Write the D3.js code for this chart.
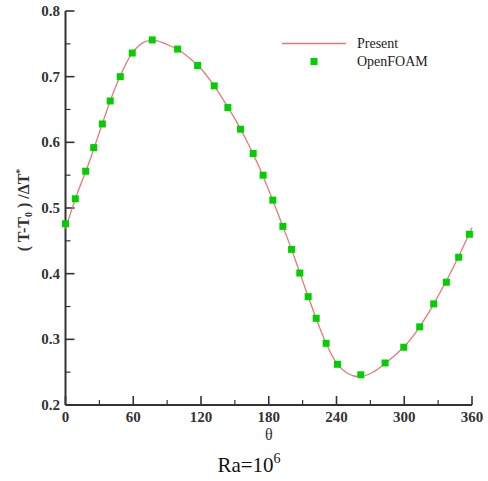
<!DOCTYPE html>
<html>
<head>
<meta charset="utf-8">
<script src="https://cdn.jsdelivr.net/npm/d3@7"></script>
<style>
  body { margin: 0; background: #fff; }
  svg { display: block; }
  text { font-family: 'Liberation Serif', 'Times New Roman', Times, serif; }
</style>
</head>
<body>
<script>
// present solution (line)
const lineTheta = [0,10,20,30,40,50,60,70,80,90,100,110,120,130,140,150,160,170,180,
                   190,200,210,220,230,240,250,260,270,280,290,300,310,320,330,340,350,360]
const lineVal = [0.468,0.52,0.565,0.615,0.665,0.707,0.738,0.753,0.755,0.749,0.741,0.728,0.712,0.690,0.664,0.636,0.604,0.568,0.527,
                 0.483,0.438,0.389,0.341,0.297,0.264,0.248,0.243,0.248,0.259,0.273,0.289,0.310,0.336,0.366,0.398,0.433,0.470]

// OpenFOAM points
const foamTheta = [0,8.7,17.9,25,32.6,39.6,48.5,59.1,76.8,99.3,117,131.7,143.8,155,166.2,175,183.6,
                   192.5,200.2,207.5,214.9,222,230.8,240.9,261.5,283,299.6,313.7,326.1,337.3,348.2,357.7]
const foamVal = [0.476,0.514,0.556,0.592,0.628,0.663,0.700,0.736,0.756,0.742,0.717,0.686,0.653,0.620,0.583,0.550,0.512,
                 0.472,0.437,0.401,0.365,0.332,0.294,0.262,0.246,0.264,0.288,0.319,0.354,0.387,0.425,0.460]

const xTicks = [0,60,120,180,240,300,360]
const yTicks = [0.2,0.3,0.4,0.5,0.6,0.7,0.8]
const seriesNames = ["Present", "OpenFOAM"]

const W = 488, H = 481
const axisColor = '#333'
const lineColor = '#e97878'
const dotColor = '#00d000'

const svg = d3.select("body").append("svg")
    .attr("width", W)
    .attr("height", H)

const x = d3.scaleLinear().domain([0, 360]).range([65.5, 472])
const y = d3.scaleLinear().domain([0.2, 0.8]).range([405, 11])

// axes lines
svg.append('line')
    .attr('x1', x(0)).attr('x2', x(0))
    .attr('y1', y(0.8)).attr('y2', y(0.2))
    .attr('stroke', axisColor).attr('stroke-width', 2)
svg.append('line')
    .attr('x1', x(0)).attr('x2', x(360))
    .attr('y1', y(0.2)).attr('y2', y(0.2))
    .attr('stroke', axisColor).attr('stroke-width', 2)

// y ticks (inward)
const yMinor = d3.range(0.25, 0.8, 0.1)
svg.selectAll('.ytick').data(yTicks).enter().append('line')
    .attr('x1', x(0)).attr('x2', x(0) + 9)
    .attr('y1', d => y(d)).attr('y2', d => y(d))
    .attr('stroke', axisColor).attr('stroke-width', 1.6)
svg.selectAll('.yminor').data(yMinor).enter().append('line')
    .attr('x1', x(0)).attr('x2', x(0) + 5)
    .attr('y1', d => y(d)).attr('y2', d => y(d))
    .attr('stroke', axisColor).attr('stroke-width', 1.2)
svg.selectAll('.ylab').data(yTicks).enter().append('text')
    .attr('x', 60).attr('y', d => y(d) + 5)
    .attr('text-anchor', 'end')
    .attr('font-weight', 'bold')
    .attr('font-size', 15)
    .attr('fill', axisColor)
    .text(d => d.toFixed(1))

// x ticks (inward)
const xMinor = d3.range(30, 360, 60)
svg.selectAll('.xtick').data(xTicks).enter().append('line')
    .attr('x1', d => x(d)).attr('x2', d => x(d))
    .attr('y1', y(0.2)).attr('y2', y(0.2) - 9)
    .attr('stroke', axisColor).attr('stroke-width', 1.6)
svg.selectAll('.xminor').data(xMinor).enter().append('line')
    .attr('x1', d => x(d)).attr('x2', d => x(d))
    .attr('y1', y(0.2)).attr('y2', y(0.2) - 5)
    .attr('stroke', axisColor).attr('stroke-width', 1.2)
svg.selectAll('.xlab').data(xTicks).enter().append('text')
    .attr('x', d => x(d)).attr('y', 422)
    .attr('text-anchor', 'middle')
    .attr('font-weight', 'bold')
    .attr('font-size', 15)
    .attr('fill', axisColor)
    .text(d => d)

// axis titles
svg.append('text')
    .attr('x', x(180)).attr('y', 440)
    .attr('text-anchor', 'middle')
    .attr('font-size', 16)
    .attr('fill', axisColor)
    .text('θ')

const ylab = svg.append('text')
    .attr('transform', 'translate(29,210) rotate(-90)')
    .attr('text-anchor', 'middle')
    .attr('font-weight', 'bold')
    .attr('font-size', 16)
    .attr('fill', axisColor)
ylab.append('tspan').text('( T-T')
ylab.append('tspan').attr('font-size', 10).attr('dy', 3).text('0')
ylab.append('tspan').attr('dy', -3).text(' ) /ΔT')
ylab.append('tspan').attr('font-size', 10).attr('dy', -6).text('*')

// caption
const cap = svg.append('text')
    .attr('x', 249).attr('y', 472)
    .attr('text-anchor', 'middle')
    .attr('font-size', 21)
    .attr('fill', '#111')
cap.append('tspan').text('Ra=10')
cap.append('tspan').attr('font-size', 14).attr('dy', -9).text('6')

// curve
const lineData = lineTheta.map((t, i) => [t, lineVal[i]])
svg.append('path')
    .datum(lineData)
    .attr('fill', 'none')
    .attr('stroke', lineColor)
    .attr('stroke-width', 1.3)
    .attr('d', d3.line().x(d => x(d[0])).y(d => y(d[1])).curve(d3.curveCatmullRom))

// points
const foamData = foamTheta.map((t, i) => [t, foamVal[i]])
const s = 7
svg.selectAll('.pt').data(foamData).enter().append('rect')
    .attr('x', d => x(d[0]) - s / 2)
    .attr('y', d => y(d[1]) - s / 2)
    .attr('width', s).attr('height', s)
    .attr('fill', dotColor)

// legend
svg.append('line')
    .attr('x1', 282).attr('x2', 346)
    .attr('y1', 43.5).attr('y2', 43.5)
    .attr('stroke', lineColor).attr('stroke-width', 1.3)
svg.append('rect')
    .attr('x', 314 - s / 2).attr('y', 61.5 - s / 2)
    .attr('width', s).attr('height', s)
    .attr('fill', dotColor)
svg.selectAll('.leg').data(seriesNames).enter().append('text')
    .attr('x', 357).attr('y', (d, i) => 48 + i * 18)
    .attr('font-size', 14)
    .attr('fill', '#222')
    .text(d => d)
</script>
</body>
</html>
